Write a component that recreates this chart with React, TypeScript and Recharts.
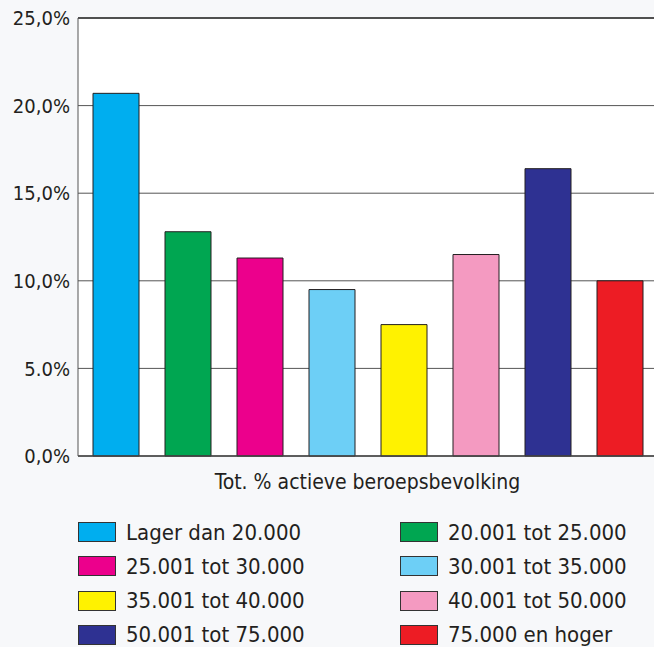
import React from 'react';
import { BarChart, Bar, XAxis, YAxis, CartesianGrid, Legend, ReferenceLine } from 'recharts';

const category = 'Tot. % actieve beroepsbevolking';
const seriesNames = [
  'Lager dan 20.000',
  '20.001 tot 25.000',
  '25.001 tot 30.000',
  '30.001 tot 35.000',
  '35.001 tot 40.000',
  '40.001 tot 50.000',
  '50.001 tot 75.000',
  '75.000 en hoger',
];
const seriesValues = [20.7, 12.8, 11.3, 9.5, 7.5, 11.5, 16.4, 10.0];
const seriesColors = ['#00AEEF', '#00A651', '#EC008C', '#6DCFF6', '#FFF200', '#F49AC1', '#2E3192', '#ED1C24'];
const yTicks = [0, 5, 10, 15, 20, 25];
const yTickLabels = ['0,0%', '5.0%', '10,0%', '15,0%', '20,0%', '25,0%'];

const FONT = "'DejaVu Sans Condensed', 'DejaVu Sans', sans-serif";

const row: Record<string, any> = { name: category };
seriesNames.forEach((_, i) => {
  row['s' + i] = seriesValues[i];
});
const data = [row];

const renderLegend = () => {
  return (
    <div style={{ position: 'relative', width: 654, height: 134, fontFamily: FONT }}>
      {seriesNames.map((name: string, i: number) => {
        const col = i % 2;
        const r = Math.floor(i / 2);
        const left = col === 0 ? 78 : 400;
        const top = 19 + r * 34.3;
        return (
          <div
            key={i}
            style={{
              position: 'absolute',
              left,
              top: top - 14,
              height: 28,
              display: 'flex',
              alignItems: 'center',
              whiteSpace: 'nowrap',
            }}
          >
            <span
              style={{
                display: 'inline-block',
                width: 36,
                height: 18,
                background: seriesColors[i],
                border: '1px solid #333',
                marginRight: 10,
              }}
            />
            <span style={{ fontSize: 22, color: '#231f20' }}>{name}</span>
          </div>
        );
      })}
    </div>
  );
};

export default function App() {
  return (
    <div
      style={{
        position: 'absolute',
        left: 0,
        top: 0,
        width: 654,
        height: 647,
        background: '#f7f8fa',
        overflow: 'hidden',
      }}
    >
      <BarChart
        width={654}
        height={647}
        data={data}
        margin={{ top: 18, right: -3, bottom: 161, left: 0 }}
        barSize={46}
        barGap={26}
      >
        <CartesianGrid vertical={false} stroke="#555" fill="#ffffff" />
        <XAxis
          dataKey="name"
          axisLine={{ stroke: '#444', strokeWidth: 1.5 }}
          tickLine={false}
          tickMargin={12}
          height={30}
          tick={{ fill: '#231f20', fontSize: 21, fontFamily: FONT }}
        />
        <YAxis
          width={78}
          domain={[0, 25]}
          ticks={yTicks}
          interval={0}
          axisLine={{ stroke: '#555' }}
          tickLine={false}
          tickFormatter={(v: number) => yTickLabels[yTicks.indexOf(v)]}
          tick={{ fill: '#231f20', fontSize: 20, fontFamily: FONT }}
        />
        <ReferenceLine y={25} stroke="#333" strokeWidth={1.5} />
        {seriesNames.map((n, i) => (
          <Bar
            key={n}
            dataKey={'s' + i}
            name={n}
            fill={seriesColors[i]}
            stroke="#231f20"
            strokeWidth={1}
            isAnimationActive={false}
          />
        ))}
        <Legend
          layout="horizontal"
          verticalAlign="middle"
          align="center"
          wrapperStyle={{ top: 513, left: 0, width: 654 }}
          content={renderLegend}
        />
      </BarChart>
    </div>
  );
}
